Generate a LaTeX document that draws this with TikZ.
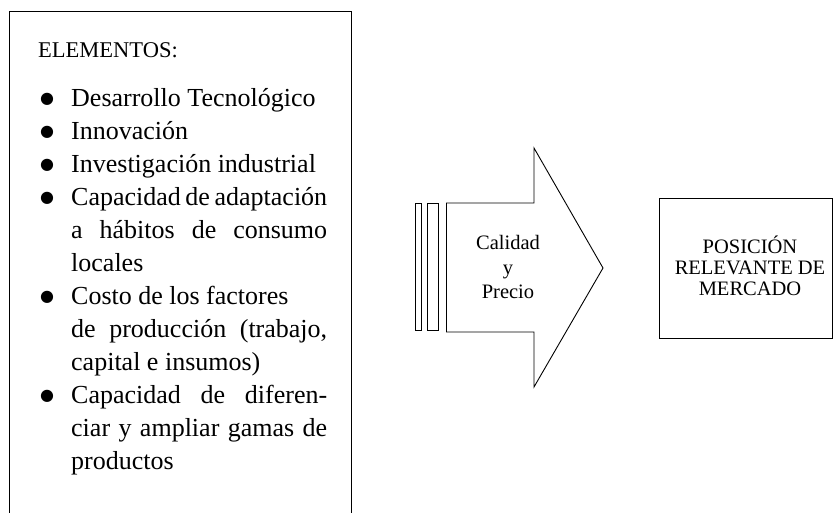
\documentclass[tikz,border=0pt]{standalone}
\usepackage{fontspec}
\setmainfont{Liberation Serif}
\newfontfamily\simbolos{DejaVu Sans}
\newcommand\punto[1]{\par\hangindent=33pt\hangafter=1\noindent\makebox[33pt][l]{\hspace{2pt}\raisebox{3.5pt}{\simbolos\fontsize{16}{16}\selectfont ●}}#1}
\begin{document}
\begin{tikzpicture}[x=1pt,y=-1pt,
        linea/.style={line width=0.9pt},
        rotulo/.style={inner sep=0pt,align=center,font=\fontsize{20.5}{21}\selectfont}]
        \useasboundingbox (0,0) rectangle (833,513);
        % recuadro de elementos (abierto por abajo)
        \draw[linea] (9,513) -- (9,11) -- (351,11) -- (351,513);
        \node[anchor=base west,inner sep=0pt,font=\fontsize{22.5}{27}\selectfont] (titulo) at (38,58) {ELEMENTOS:};
        \node[anchor=base west,inner sep=0pt,font=\fontsize{26}{33}\selectfont] (lista) at (38,107) {%
            \begin{minipage}[t]{289pt}
            \punto{Desarrollo Tecnológico}
            \punto{Innovación}
            \punto{Investigación industrial}
            \punto{Capacidad de adaptación\linebreak a hábitos de consumo\linebreak locales}
            \punto{Costo de los factores\newline de producción (trabajo,\linebreak capital e insumos)}
            \punto{Capacidad de diferen-\linebreak ciar y ampliar gamas de\linebreak productos}
            \end{minipage}};
        % flecha con franjas
        \draw[linea] (415,203) rectangle (421,330);
        \draw[linea] (427,203) rectangle (438,330);
        \draw[linea] (446,203) -- (446,332);
        \draw[linea] (446,203) -- (534,203) -- (534,148) -- (603,268) -- (534,387) -- (534,332) -- (446,332);
        \node[rotulo,font=\fontsize{20.5}{24.5}\selectfont] (calidad) at (508,267) {Calidad\\y\\Precio};
        % posicion
        \draw[linea] (659,198) rectangle (832,338);
        \node[rotulo] (posicion) at (750,266) {POSICIÓN\\RELEVANTE DE\\MERCADO};
\end{tikzpicture}
\end{document}
